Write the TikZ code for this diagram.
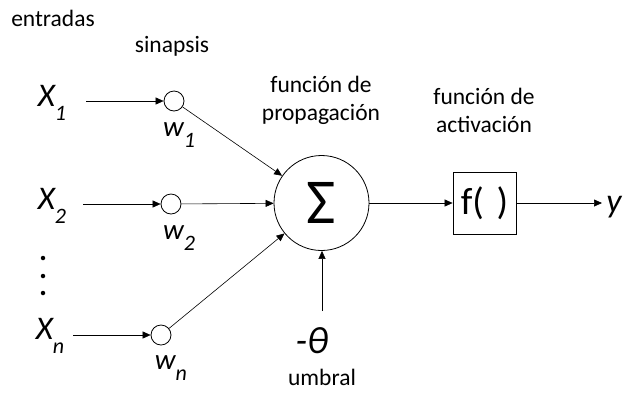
\documentclass[tikz,border=0pt]{standalone}
\usepackage{fontspec}
\setmainfont{Carlito}
\usetikzlibrary{arrows.meta}
\tikzset{
  lbl/.style={font=\fontsize{23.5}{28}\selectfont, align=center, inner sep=0pt},
  var/.style={font=\fontsize{33}{35}\selectfont\itshape, inner sep=0pt},
  wvar/.style={font=\fontsize{29}{31}\selectfont\itshape, inner sep=0pt},
  syn/.style={circle, draw, thick, minimum size=20pt, inner sep=0pt},
  dot/.style={circle, fill, minimum size=4.5pt, inner sep=0pt},
  conn/.style={-{Triangle[length=8pt,width=7pt]}, line width=0.6pt},
}
\newcommand{\subs}[2]{#1\raisebox{-0.4em}{\fontsize{22}{24}\selectfont #2}}
\begin{document}
\begin{tikzpicture}[x=1pt,y=-1pt]
\useasboundingbox (0,0) rectangle (628,392);
% labels
\node[lbl] (ent) at (53,18) {entradas};
\node[lbl] (sin) at (172,46) {sinapsis};
\node[lbl] (fp) at (321,100) {función de\\propagación};
\node[lbl] (fa) at (484,110) {función de\\activación};
\node[lbl] (umb) at (322,377) {umbral};
% inputs
\node[var] (x1) at (52,103) {\subs{X}{1}};
\node[var] (x2) at (52,206) {\subs{X}{2}};
\node[var] (xn) at (50,336) {\subs{X}{n}};
\node[dot] (d1) at (43,258) {};
\node[dot] (d2) at (43,276) {};
\node[dot] (d3) at (43,293) {};
% synapses
\node[syn] (s1) at (174,101) {};
\node[syn] (s2) at (171,204) {};
\node[syn] (sn) at (161,335) {};
\node[wvar] (w1) at (179,135) {\subs{w}{1}};
\node[wvar] (w2) at (179,238) {\subs{w}{2}};
\node[wvar] (wn) at (171,368) {\subs{w}{n}};
% coordinates for input arrow starts
\coordinate (a1) at (86,101);
\coordinate (a2) at (83,204);
\coordinate (an) at (73,335);
% sum
\node[circle, draw, thick, minimum size=95pt, inner sep=0pt, font=\fontsize{64}{66}\selectfont] (sum) at (321.5,203) {Σ};
% activation box
\node[draw, thick, minimum width=63pt, minimum height=62pt, inner sep=0pt, font=\fontsize{38}{40}\selectfont] (f) at (484.5,203) {f(\,\,)};
\node[font=\fontsize{34}{36}\selectfont\itshape, inner sep=0pt] (y) at (614,207) {y};
\coordinate (yend) at (602,203);
% theta
\node[font=\fontsize{38}{40}\selectfont\itshape, inner sep=0pt] (th) at (312,341) {-θ};
\coordinate (thtop) at (322,311);
% connectors
\draw[conn] (a1) -- (s1);
\draw[conn] (a2) -- (s2);
\draw[conn] (an) -- (sn);
\draw[conn] (s1) -- (sum);
\draw[conn] (s2) -- (sum);
\draw[conn] (sn) -- (sum);
\draw[conn] (thtop) -- (sum.south -| thtop);
\draw[conn] (sum) -- (f);
\draw[conn] (f) -- (yend);
\end{tikzpicture}
\end{document}
